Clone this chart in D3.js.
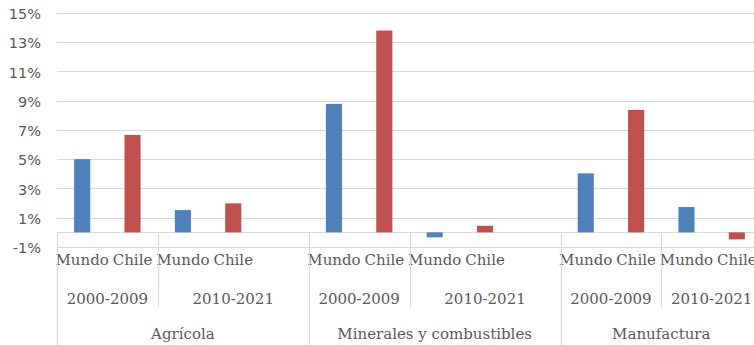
<!DOCTYPE html>
<html>
<head>
<meta charset="utf-8">
<script src="https://cdn.jsdelivr.net/npm/d3@7"></script>
<style>
  html, body { margin: 0; padding: 0; background: #fff; }
  svg { display: block; }
</style>
</head>
<body>
<svg id="chart" width="754" height="345"></svg>
<script>
// Sectors, periods and series
const categories = ["Agrícola", "Minerales y combustibles", "Manufactura"];
const periods = ["2000-2009", "2010-2021"];
const seriesNames = ["Mundo", "Chile"];

// Average annual growth (%) per sector and period, in the order
// Agrícola 2000-2009, Agrícola 2010-2021, Minerales 2000-2009, ...
const mundo = [5.0, 1.52, 8.77, -0.34, 4.03, 1.73];
const chile = [6.65, 1.98, 13.78, 0.45, 8.36, -0.48];

// Value axis ticks
const yTicks = [-1, 1, 3, 5, 7, 9, 11, 13, 15];

const width = 754, height = 345;
const plotLeft = 57, plotRight = 762, plotTop = 12.7, plotBottom = 247;

const colors = { Mundo: "#4f81bd", Chile: "#c0504d" };
const gridColor = "#d9d9d9";
const textColor = "#595959";

// Build the category slots: Mundo/Chile for each period, with an empty
// spacer slot after each sector except the last one
const slots = [];
const bars = [];
categories.forEach((cat, ci) => {
  periods.forEach((per, pi) => {
    seriesNames.forEach((s) => {
      const key = `${cat}|${per}|${s}`;
      slots.push(key);
      const idx = ci * periods.length + pi;
      bars.push({ key, cat, per, series: s, value: s === "Mundo" ? mundo[idx] : chile[idx] });
    });
  });
  if (ci < categories.length - 1) slots.push(`${cat}|spacer`);
});

const x = d3.scaleBand().domain(slots).range([plotLeft, plotRight]).padding(0);
const y = d3.scaleLinear().domain([-1, 15]).range([plotBottom, plotTop]);

const svg = d3.select("#chart");

// Horizontal gridlines
svg.append("g")
  .selectAll("line")
  .data(yTicks)
  .join("line")
  .attr("x1", plotLeft).attr("x2", width)
  .attr("y1", d => Math.round(y(d)) + 0.5).attr("y2", d => Math.round(y(d)) + 0.5)
  .attr("stroke", gridColor).attr("stroke-width", 1);

// Value axis labels
const yAxis = d3.axisLeft(y).tickValues(yTicks).tickFormat(d => d + "%").tickSize(0).tickPadding(0);
const yG = svg.append("g").attr("transform", "translate(41,0)").call(yAxis);
yG.select(".domain").remove();
yG.selectAll("text")
  .attr("font-family", "'DejaVu Sans', sans-serif")
  .attr("font-size", 14.5)
  .attr("fill", textColor)
  .attr("dy", "0.4em");

// Category axis line at zero
svg.append("line")
  .attr("x1", plotLeft).attr("x2", width)
  .attr("y1", Math.round(y(0)) + 0.5).attr("y2", Math.round(y(0)) + 0.5)
  .attr("stroke", gridColor).attr("stroke-width", 1);

// Bars
const barW = x.bandwidth() * 0.32;
svg.append("g")
  .selectAll("rect")
  .data(bars)
  .join("rect")
  .attr("x", d => x(d.key) + (x.bandwidth() - barW) / 2)
  .attr("width", barW)
  .attr("y", d => y(Math.max(0, d.value)))
  .attr("height", d => Math.abs(y(d.value) - y(0)))
  .attr("fill", d => colors[d.series]);

// Multi-level category labels
const axisTop = Math.round(y(0)) + 0.5;
const serifFont = "'DejaVu Serif', serif";
const labels = svg.append("g")
  .attr("font-family", serifFont)
  .attr("fill", textColor)
  .attr("text-anchor", "middle");

// Level 1: series names
labels.selectAll("text.series")
  .data(bars)
  .join("text")
  .attr("class", "series")
  .attr("x", d => x(d.key) + x.bandwidth() / 2)
  .attr("y", 265)
  .attr("font-size", 15)
  .text(d => d.series);

// Level 2: periods
const periodGroups = [];
categories.forEach((cat) => {
  periods.forEach((per, pi) => {
    const start = x(`${cat}|${per}|${seriesNames[0]}`);
    const isLastPeriod = pi === periods.length - 1;
    let end = x(`${cat}|${per}|${seriesNames[seriesNames.length - 1]}`) + x.step();
    if (isLastPeriod && slots.includes(`${cat}|spacer`)) end += x.step();
    periodGroups.push({ cat, per, start, end });
  });
});

labels.selectAll("text.period")
  .data(periodGroups)
  .join("text")
  .attr("class", "period")
  .attr("x", d => (d.start + d.end) / 2)
  .attr("y", 304)
  .attr("font-size", 15)
  .text(d => d.per);

// Level 3: sectors
const catGroups = categories.map((cat) => {
  const g = periodGroups.filter(p => p.cat === cat);
  return { cat, start: g[0].start, end: g[g.length - 1].end };
});

labels.selectAll("text.cat")
  .data(catGroups)
  .join("text")
  .attr("class", "cat")
  .attr("x", d => (d.start + d.end) / 2)
  .attr("y", 339)
  .attr("font-size", 15)
  .text(d => d.cat);

// Separators between periods (short) and sectors (full depth)
const sep = svg.append("g").attr("stroke", gridColor).attr("stroke-width", 1);
periodGroups.forEach((p, i) => {
  if (i % periods.length !== 0) {
    sep.append("line")
      .attr("x1", Math.round(p.start) + 0.5).attr("x2", Math.round(p.start) + 0.5)
      .attr("y1", axisTop).attr("y2", 307);
  }
});
catGroups.forEach((c) => {
  sep.append("line")
    .attr("x1", Math.round(c.start) + 0.5).attr("x2", Math.round(c.start) + 0.5)
    .attr("y1", axisTop).attr("y2", height);
});
sep.append("line")
  .attr("x1", Math.round(plotRight) + 0.5).attr("x2", Math.round(plotRight) + 0.5)
  .attr("y1", axisTop).attr("y2", height);
</script>
</body>
</html>
